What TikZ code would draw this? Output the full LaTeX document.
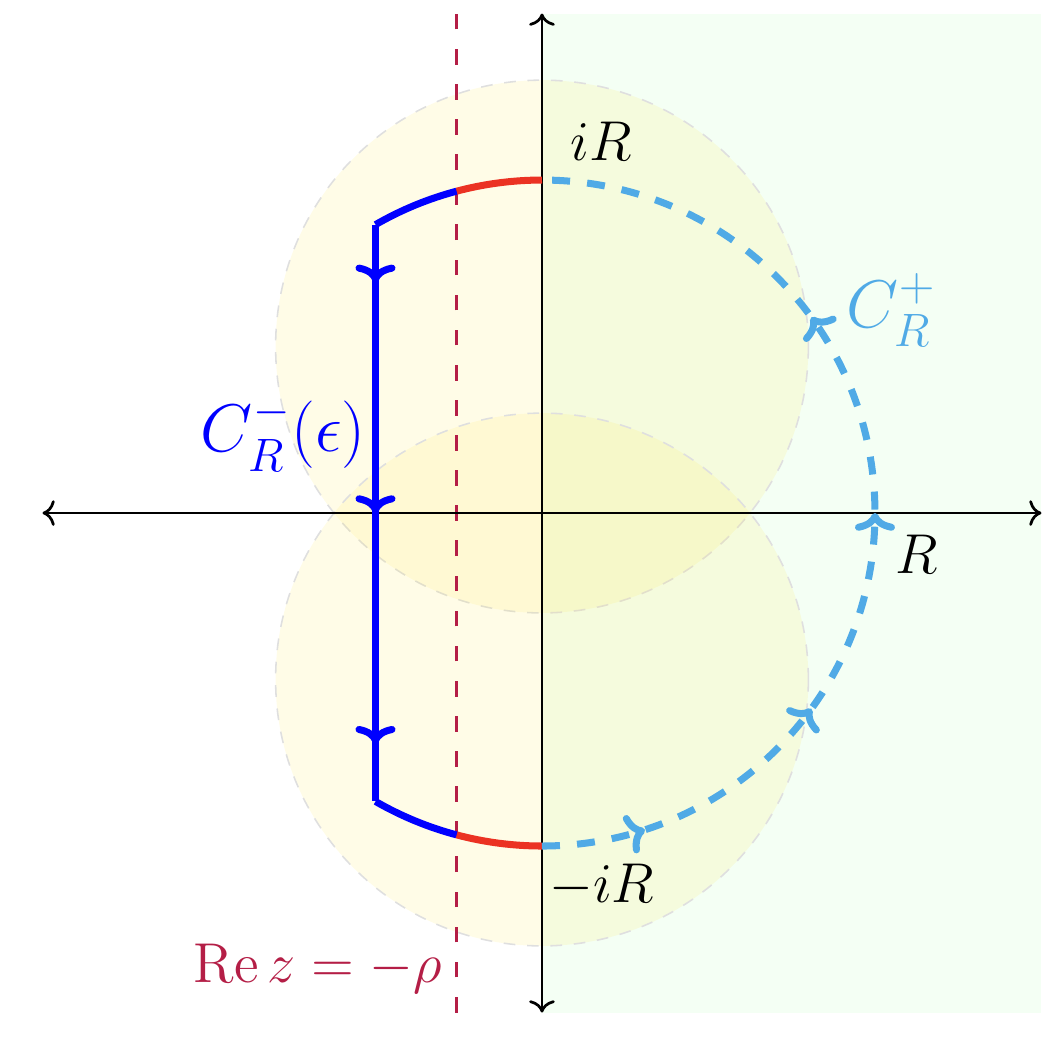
\documentclass[tikz,border=0pt]{standalone}
\usepackage{amsmath,amssymb}
\usepackage{xcolor}
\usepackage{tikz}
\usetikzlibrary{arrows.meta,decorations.markings}
\definecolor{contblue}{RGB}{0,0,255}
\definecolor{skyblue}{RGB}{80,170,230}
\definecolor{arcred}{RGB}{235,50,35}
\definecolor{crimson}{RGB}{180,30,70}
\definecolor{discyellow}{RGB}{255,230,60}
\definecolor{halfgreen}{RGB}{244,255,244}
\tikzset{
  axis/.style={<->, line width=0.7pt, draw=black},
  disc/.style={fill=discyellow, fill opacity=0.12, draw=gray!25, dashed, thin},
  rholine/.style={draw=crimson, line width=0.7pt, dash pattern=on 4pt off 5pt},
  cont/.style={line width=1.8pt, draw=contblue},
  redarc/.style={line width=1.8pt, draw=arcred},
  bigarc/.style={line width=1.8pt, draw=skyblue, dash pattern=on 4.6pt off 4.4pt},
  midarrows/.style n args={3}{postaction={decorate}, decoration={markings,
      mark=between positions #1 and #2 step #3 with {\arrow{To[length=1.6mm,width=3.6mm]}}}},
  lbl/.style={inner sep=0pt, font=\fontsize{13.5}{16}\selectfont},
}
\begin{document}
\begin{tikzpicture}
  \useasboundingbox (-4.883,-4.712) rectangle (4.703,4.622);
  % right half plane
  \fill[halfgreen] (0,-4.5) rectangle (4.5,4.5);
  % discs
  \path[disc] (0,1.5) circle[radius=2.4];
  \path[disc] (0,-1.5) circle[radius=2.4];
  % Re z = -rho
  \draw[rholine] (-0.77,-4.5) -- (-0.77,4.5);
  % axes
  \draw[axis] (-4.5,0) -- (4.5,0);
  \draw[axis] (0,-4.5) -- (0,4.5);
  % contour C_R^-(eps)
  \draw[redarc] (90:3) arc[start angle=90, end angle=104.87, radius=3];
  \draw[cont] (104.87:3) arc[start angle=104.87, end angle=120, radius=3];
  \draw[redarc] (-90:3) arc[start angle=-90, end angle=-104.87, radius=3];
  \draw[cont] (-104.87:3) arc[start angle=-104.87, end angle=-120, radius=3];
  \draw[cont, midarrows={0.1}{0.9}{0.4}] (-1.5,2.598) -- (-1.5,-2.598);
  % contour C_R^+
  \draw[bigarc, midarrows={0.1}{0.7}{0.2}] (0,-3) arc[start angle=-90, end angle=90, radius=3];
  % labels
  \node[lbl] (iR) at (0.53,3.35) {$iR$};
  \node[lbl] (miR) at (0.54,-3.36) {$-iR$};
  \node[lbl] (R) at (3.38,-0.37) {$R$};
  \node[lbl, font=\LARGE, text=skyblue] (Cplus) at (3.15,1.83) {$C_R^+$};
  \node[lbl, font=\LARGE, text=contblue] (Cminus) at (-2.33,0.71) {$C_R^-(\epsilon)$};
  \node[lbl, font=\fontsize{14}{17}\selectfont, text=crimson] (rho) at (-2.02,-4.11) {$\operatorname{Re} z=-\rho$};
\end{tikzpicture}
\end{document}
